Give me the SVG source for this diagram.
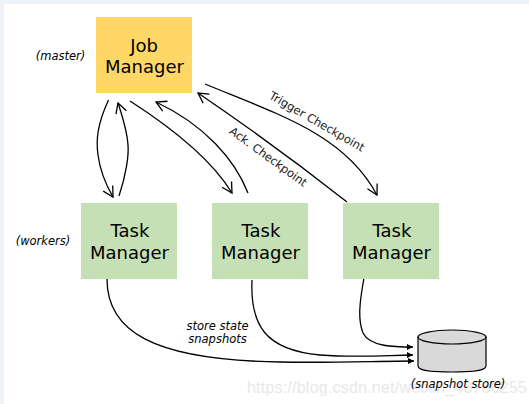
<svg xmlns="http://www.w3.org/2000/svg" width="529" height="404" viewBox="0 0 529 404">
<style>
.n{font:18px "DejaVu Sans",sans-serif;fill:#000;text-anchor:middle}
.i{font:italic 11.5px "DejaVu Sans",sans-serif;fill:#000;text-anchor:middle}
.l{font:11.5px "DejaVu Sans",sans-serif;fill:#222;text-anchor:middle}
.c{fill:none;stroke:#000;stroke-width:1.3}
.a{marker-end:url(#o)}
.s{marker-end:url(#f)}
</style>
<defs>
<marker id="o" markerUnits="userSpaceOnUse" markerWidth="14" markerHeight="14" refX="10" refY="5.500" orient="auto" overflow="visible"><path d="M0 0L10 5.500L0 11" fill="none" stroke="#000" stroke-width="1.3"/></marker>
<marker id="f" markerUnits="userSpaceOnUse" markerWidth="10" markerHeight="8" refX="6" refY="3" orient="auto" overflow="visible"><path d="M0 0L6 3L0 6Z" fill="#000"/></marker>
</defs>
<rect width="529" height="404" fill="#eef3fa"/>
<rect x="4" y="4" width="525" height="400" fill="#fff"/>
<g id="connectors">
<path class="c a" d="M108.500 100C97 125 96 140 98 155C100 170 106 185 113 197"/>
<path class="c a" d="M119 196C126 175 129 155 128 145C127 130 122 115 118 103"/>
<path class="c a" d="M130 101C172 128 212 160 232 193"/>
<path class="c a" d="M248 193C235 160 205 125 156 102"/>
<path class="c a" d="M205 84C280 115 345 135 377 195"/>
<path class="c a" d="M347 202C300 165 245 125 198 93"/>
<path class="c s" d="M107 279C107 330 150 360 280 362C330 363 380 361 414 361"/>
<path class="c s" d="M252 280C250 325 265 350 320 355C360 358 390 355 413 355"/>
<path class="c s" d="M364 278C359 305 358 320 363 333C370 347 395 347 413 347"/>
</g>
<g id="job-manager"><rect x="96" y="17" width="96" height="76" fill="#ffd767"/><text class="n" x="144" y="52">Job</text><text class="n" x="144.500" y="73">Manager</text></g>
<g id="task-manager-1"><rect x="81" y="203" width="96" height="76" fill="#c5e0b4"/><text class="n" x="130" y="237">Task</text><text class="n" x="129.500" y="259">Manager</text></g>
<g id="task-manager-2"><rect x="212" y="203" width="96" height="76" fill="#c5e0b4"/><text class="n" x="261" y="237">Task</text><text class="n" x="260.500" y="259">Manager</text></g>
<g id="task-manager-3"><rect x="343" y="203" width="96" height="76" fill="#c5e0b4"/><text class="n" x="392" y="237">Task</text><text class="n" x="391.500" y="259">Manager</text></g>
<g id="snapshot-store"><path d="M418 337V366C418 372 440 372 452 372C464 372 486 372 486 366V337Z" fill="#d9d9d9" stroke="#000" stroke-width="1.2"/><ellipse cx="452" cy="337" rx="34" ry="7" fill="#d9d9d9" stroke="#000" stroke-width="1.2"/></g>
<text x="247" y="393" font-family="'Liberation Sans',sans-serif" font-size="16" fill="#e8e8e8" textLength="280">https://blog.csdn.net/weixin_43786255</text>
<text class="i" x="60.500" y="60">(master)</text>
<text class="i" x="43" y="245">(workers)</text>
<text class="i" x="217.500" y="330">store state</text>
<text class="i" x="217.500" y="343">snapshots</text>
<text class="i" x="458" y="388">(snapshot store)</text>
<text class="l" transform="translate(315 125) rotate(30)">Trigger Checkpoint</text>
<text class="l" transform="translate(266 160) rotate(36)">Ack. Checkpoint</text>
</svg>
